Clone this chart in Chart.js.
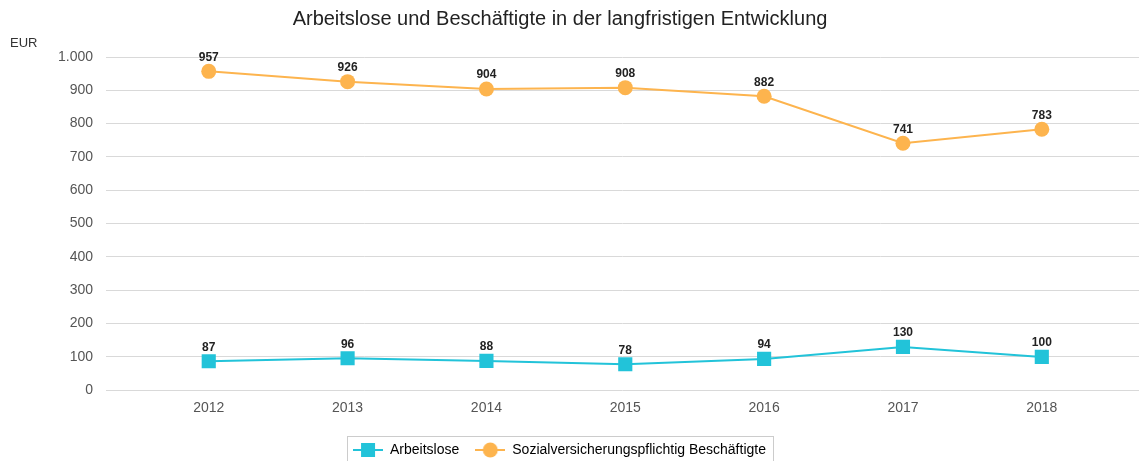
<!DOCTYPE html>
<html lang="de">
<head>
    <meta charset="UTF-8">
    <title>Arbeitslose und Beschäftigte</title>
    <style>
        body {
            margin: 0;
            background-color: #ffffff;
            font-family: "Liberation Sans", Arial, sans-serif;
        }
    </style>
</head>
<body>
    <canvas id="myChart" width="1139" height="461"></canvas>
    <script src="https://cdn.jsdelivr.net/npm/chart.js"></script>
    <script>
        // Jahre (Kategorien)
        const years = [2012, 2013, 2014, 2015, 2016, 2017, 2018];

        // Werte
        const arbeitslose = [87, 96, 88, 78, 94, 130, 100];
        const beschaeftigte = [957, 926, 904, 908, 882, 741, 783];

        // Achsenbeschriftung y
        const yTicks = [0, 100, 200, 300, 400, 500, 600, 700, 800, 900, 1000];

        const chartTitle = 'Arbeitslose und Beschäftigte in der langfristigen Entwicklung';
        const fontFamily = '"Liberation Sans", Arial, sans-serif';
        const tealColor = '#22c3d9';
        const orangeColor = '#fdb44e';

        // Deutsche Tausendertrennung
        const formatDe = v => String(v).replace(/\B(?=(\d{3})+(?!\d))/g, '.');

        // Legenden-Symbol: Linie mit Markierung
        function legendIcon(color, shape) {
            const c = document.createElement('canvas');
            c.width = 30;
            c.height = 16;
            const g = c.getContext('2d');
            g.strokeStyle = color;
            g.lineWidth = 2;
            g.beginPath();
            g.moveTo(0, 8);
            g.lineTo(30, 8);
            g.stroke();
            g.fillStyle = color;
            if (shape === 'rect') {
                g.fillRect(8, 1, 14, 14);
            } else {
                g.beginPath();
                g.arc(15, 8, 7.5, 0, Math.PI * 2);
                g.fill();
            }
            return c;
        }

        // Titel, Werte über den Punkten, EUR-Beschriftung und Rahmen der Legende
        const extrasPlugin = {
            id: 'extras',
            afterLayout(chart) {
                // Legende etwas nach links, wie im Original
                chart.legend.left -= 10;
                chart.legend.right -= 10;
            },
            afterDatasetsDraw(chart) {
                const ctx = chart.ctx;
                ctx.save();
                ctx.textBaseline = 'middle';

                ctx.font = '20px ' + fontFamily;
                ctx.fillStyle = '#222';
                ctx.textAlign = 'center';
                ctx.fillText(chartTitle, 560, 19);

                ctx.font = 'bold 12px ' + fontFamily;
                chart.data.datasets.forEach((ds, i) => {
                    chart.getDatasetMeta(i).data.forEach((pt, j) => {
                        ctx.fillText(ds.data[j].y, pt.x, pt.y - 14);
                    });
                });

                ctx.font = '13px ' + fontFamily;
                ctx.fillStyle = '#333';
                ctx.textAlign = 'left';
                ctx.fillText('EUR', 10, 43);

                const boxes = chart.legend.legendHitBoxes;
                if (boxes && boxes.length) {
                    const left = Math.min(...boxes.map(b => b.left)) - 6;
                    const right = Math.max(...boxes.map(b => b.left + b.width)) + 7;
                    const mid = boxes[0].top + boxes[0].height / 2;
                    ctx.strokeStyle = '#cccccc';
                    ctx.lineWidth = 1;
                    ctx.strokeRect(Math.round(left) + 0.5, Math.round(mid - 14) + 0.5, Math.round(right - left), 40);
                }
                ctx.restore();
            }
        };

        const ctx = document.getElementById('myChart').getContext('2d');

        const data = {
            datasets: [
                {
                    label: 'Arbeitslose',
                    data: years.map((y, i) => ({ x: y, y: arbeitslose[i] })),
                    borderColor: tealColor,
                    backgroundColor: tealColor,
                    borderWidth: 2,
                    pointStyle: 'rect',
                    pointRadius: 10,
                    pointHoverRadius: 10,
                    pointBorderWidth: 0
                },
                {
                    label: 'Sozialversicherungspflichtig Beschäftigte',
                    data: years.map((y, i) => ({ x: y, y: beschaeftigte[i] })),
                    borderColor: orangeColor,
                    backgroundColor: orangeColor,
                    borderWidth: 2,
                    pointStyle: 'circle',
                    pointRadius: 7.5,
                    pointHoverRadius: 7.5,
                    pointBorderWidth: 0
                }
            ]
        };

        const icons = [legendIcon(tealColor, 'rect'), legendIcon(orangeColor, 'circle')];

        const config = {
            type: 'line',
            data: data,
            plugins: [extrasPlugin],
            options: {
                responsive: false,
                animation: false,
                layout: { autoPadding: false, padding: { left: 0, right: 0, top: 57, bottom: -6 } },
                plugins: {
                    title: { display: false },
                    legend: {
                        position: 'bottom',
                        labels: {
                            color: '#444',
                            font: { family: fontFamily, size: 14 },
                            usePointStyle: true,
                            pointStyleWidth: 30,
                            padding: 16,
                            generateLabels: chart => chart.data.datasets.map((ds, i) => ({
                                text: ds.label,
                                pointStyle: icons[i],
                                fillStyle: ds.backgroundColor,
                                strokeStyle: ds.borderColor,
                                lineWidth: 0,
                                datasetIndex: i
                            }))
                        }
                    },
                    tooltip: { enabled: false }
                },
                scales: {
                    x: {
                        type: 'linear',
                        min: 2011.26,
                        max: 2018.7,
                        grid: { display: false, drawTicks: false },
                        border: { display: false },
                        afterBuildTicks: scale => {
                            scale.ticks = years.map(v => ({ value: v }));
                        },
                        ticks: {
                            color: '#555',
                            font: { family: fontFamily, size: 14 },
                            padding: 10,
                            callback: v => String(v)
                        }
                    },
                    y: {
                        min: 0,
                        max: 1000,
                        afterBuildTicks: scale => {
                            scale.ticks = yTicks.map(v => ({ value: v }));
                        },
                        afterFit: scale => { scale.width = 106; },
                        grid: { color: '#d9d9d9', drawTicks: false },
                        border: { display: false },
                        ticks: {
                            color: '#555',
                            font: { family: fontFamily, size: 14 },
                            padding: 13,
                            callback: v => formatDe(v)
                        }
                    }
                }
            }
        };

        const myChart = new Chart(ctx, config);
    </script>
</body>
</html>
